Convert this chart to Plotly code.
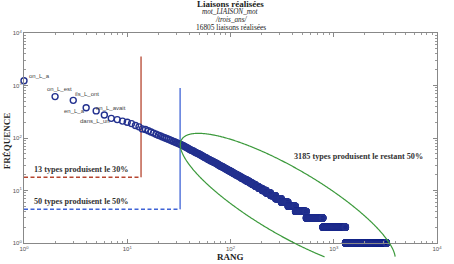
import numpy as np
import plotly.graph_objects as go

# ---------------- data ----------------
top_freqs = [1230, 615, 521, 378, 328, 275, 237, 224, 210, 200, 188, 173, 163,
             149, 145, 137, 130, 124, 118, 113, 109, 105, 101,
             98, 95, 92, 89, 86, 84, 81, 79, 77, 75,
             73, 71, 69, 67, 65, 63, 61, 60, 58, 57,
             56, 54, 53, 52, 51, 50, 49]
low_freqs = [48, 47, 46, 45, 44, 43, 42, 41, 40, 39, 38, 37, 36, 35, 34, 33, 32, 31, 30,
             29, 28, 27, 26, 25, 24, 23, 22, 21, 20, 19, 18, 17, 16, 15, 14, 13, 12, 11,
             10, 9, 8, 7, 6, 5, 4, 3, 2, 1]
low_counts = [1, 1, 1, 1, 1, 1, 2, 1, 1, 2, 1, 2, 2, 2, 2, 2, 2, 2, 2,
              3, 3, 3, 3, 3, 4, 4, 4, 5, 5, 6, 6, 7, 8, 9, 10, 11, 13, 16,
              19, 23, 29, 37, 50, 65, 116, 243, 514, 1937]
point_names = ["on_L_a", "on_L_est", "ils_L_ont", "en_L_a", "en_L_avait", "dans_L_un"]
tick_exps = [0, 1, 2, 3, 4]

rank_30pct, red_top, red_level = 13.6, 3550, 17.8
rank_50pct, blue_top, blue_level = 32.5, 900, 4.4

# ellipse around the tail (log10 rank, log10 freq units)
ell_center = (2.555, 0.786)
ell_major, ell_minor, ell_angle = 1.60, 0.47, -0.918

freqs = np.concatenate([np.array(top_freqs), np.repeat(low_freqs, low_counts)])
ranks = np.arange(1, len(freqs) + 1)

# ellipse path in axis-domain fractions (not clipped to the plot area, cut at the picture bottom)
t = np.linspace(0, 2 * np.pi, 721)[:-1]
ux, uy = np.cos(ell_angle), np.sin(ell_angle)
ex = ell_center[0] + ell_major * np.cos(t) * ux - ell_minor * np.sin(t) * uy
ey = ell_center[1] + ell_major * np.cos(t) * uy + ell_minor * np.sin(t) * ux
fx, fy = ex / 4, ey / 4
keep = fy >= -0.066
if not keep.all():
    first_bad = int(np.argmin(keep))
    idx = np.roll(np.arange(len(t)), -first_bad)
    fx, fy, keep = fx[idx], fy[idx], keep[idx]
    start = int(np.argmax(keep))
    fx, fy = fx[start:][keep[start:]], fy[start:][keep[start:]]
path = "M " + " L ".join(f"{a:.5f},{b:.5f}" for a, b in zip(fx, fy))

navy = "#23318f"
red = "#b5452f"
blue = "#3f63d6"
green = "#3c9a3c"
serif = "Liberation Serif"
sans = "Liberation Sans"

fig = go.Figure()
fig.add_trace(go.Scatter(x=[1, rank_30pct], y=[red_level, red_level],
                         mode="lines", line=dict(color=red, width=1.5, dash="4px,2.5px"), hoverinfo="skip"))
fig.add_trace(go.Scatter(x=[rank_30pct, rank_30pct], y=[red_level, red_top],
                         mode="lines", line=dict(color=red, width=1.3), hoverinfo="skip"))
fig.add_trace(go.Scatter(x=[1, rank_50pct], y=[blue_level, blue_level],
                         mode="lines", line=dict(color=blue, width=1.5, dash="4px,2.5px"), hoverinfo="skip"))
fig.add_trace(go.Scatter(x=[rank_50pct, rank_50pct], y=[blue_level, blue_top],
                         mode="lines", line=dict(color=blue, width=1.3), hoverinfo="skip"))
fig.add_trace(go.Scatter(x=ranks, y=freqs, mode="markers",
                         marker=dict(symbol="circle-open", size=6, color=navy, line=dict(width=1.4, color=navy)),
                         cliponaxis=False, hoverinfo="skip"))

fig.add_shape(type="path", path=path, xref="x domain", yref="y domain",
              line=dict(color=green, width=1.2))

# point labels
lab_pos = [("left", 3, 5), ("center", 4, 8), ("left", 0, 6), ("right", 1, -3), ("left", -2, 3), ("center", -9, -6)]
for i, name in enumerate(point_names):
    xa, xs, ys = lab_pos[i]
    fig.add_annotation(x=np.log10(ranks[i]), y=np.log10(freqs[i]), xref="x", yref="y", text=name,
                       showarrow=False, xanchor=xa, yanchor="middle", xshift=xs, yshift=ys,
                       font=dict(family=sans, size=6, color="#444"))

L, T, W, H = 24, 33, 418, 211
def px(x):
    return (x - L) / W
def py(y):
    return (T + H - y) / H

titles = [("<b>Liaisons réalisées</b>", 4.0, 9), ("<i>mot_LIAISON_mot</i>", 12.4, 7.2),
          ("<i>/trois_ans/</i>", 20.1, 7.2), ("16805 liaisons réalisées", 27.6, 7.4)]
for txt, yy, sz in titles:
    fig.add_annotation(x=0.5, y=py(yy), xref="paper", yref="paper", text=txt, showarrow=False,
                       xanchor="center", yanchor="middle", font=dict(family=serif, size=sz, color="#222"))

fig.add_annotation(x=0.5, y=py(258), xref="paper", yref="paper", text="<b>RANG</b>", showarrow=False,
                   xanchor="center", yanchor="middle", font=dict(family=serif, size=9, color="#222"))
fig.add_annotation(x=px(7.5), y=py(141), xref="paper", yref="paper", text="<b>FRÉQUENCE</b>", showarrow=False,
                   textangle=-90, xanchor="center", yanchor="middle", font=dict(family=serif, size=9, color="#222"))

for txt, xx, yy in [("13 types produisent le 30%", 32, 170), ("50 types produisent le 50%", 32, 202),
                    ("3185 types produisent le restant 50%", 295, 157)]:
    fig.add_annotation(x=px(xx), y=py(yy), xref="paper", yref="paper", text="<b>" + txt + "</b>",
                       showarrow=False, xanchor="left", yanchor="middle",
                       font=dict(family=serif, size=8.2, color="#333"))

axis_common = dict(type="log", range=[0, 4], tickmode="array",
                   tickvals=[10 ** e for e in tick_exps],
                   ticktext=[f"10<sup>{e}</sup>" for e in tick_exps],
                   ticks="inside", ticklen=4, tickcolor="#888", showline=True, linecolor="#888",
                   linewidth=1, mirror="ticks", showgrid=False, zeroline=False,
                   tickfont=dict(family=sans, size=6, color="#555"),
                   minor=dict(ticks="inside", ticklen=2, tickcolor="#999", dtick="D1", showgrid=False))
fig.update_xaxes(**axis_common)
fig.update_yaxes(**axis_common)
fig.update_layout(width=454, height=264, margin=dict(l=L, r=454 - L - W, t=T, b=264 - T - H),
                  plot_bgcolor="white", paper_bgcolor="white", showlegend=False)
fig.write_html("out.html")
